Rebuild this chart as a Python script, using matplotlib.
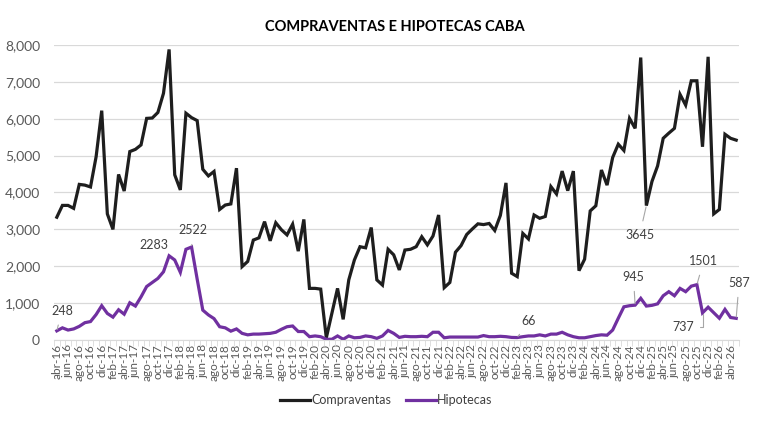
import matplotlib
matplotlib.use("Agg")
import matplotlib.pyplot as plt

plt.rcParams['font.family'] = ['Lato', 'DejaVu Sans']

meses = ["ene", "feb", "mar", "abr", "may", "jun",
         "jul", "ago", "sep", "oct", "nov", "dic"]
# abr-16 .. may-26
fechas = [f"{meses[m]}-{a % 100:02d}" for a in range(2016, 2027) for m in range(12)]
fechas = fechas[3:3 + 122]

compraventas = [
    3330, 3650, 3650, 3570, 4220, 4200, 4150, 4970, 6220, 3420,
    3000, 4490, 4040, 5110, 5170, 5290, 6010, 6020, 6170, 6690,
    7880, 4480, 4070, 6150, 6030, 5950, 4630, 4450, 4570, 3540,
    3660, 3690, 4660, 1990, 2130, 2710, 2770, 3210, 2690, 3180,
    2990, 2850, 3140, 2410, 3270, 1400, 1400, 1380, 60, 730,
    1400, 560, 1630, 2170, 2530, 2500, 3050, 1630, 1490, 2460,
    2310, 1900, 2440, 2460, 2530, 2800, 2580, 2820, 3390, 1420,
    1560, 2380, 2560, 2860, 3010, 3150, 3130, 3160, 2970, 3380,
    4260, 1810, 1720, 2890, 2740, 3390, 3300, 3350, 4160, 3960,
    4580, 4050, 4580, 1880, 2190, 3500, 3640, 4610, 4200, 4950,
    5310, 5140, 6010, 5740, 7660, 3645, 4300, 4720, 5470, 5610,
    5740, 6660, 6370, 7030, 7030, 5240, 7680, 3420, 3540, 5580,
    5470, 5420,
]

hipotecas = [
    248, 330, 270, 300, 370, 470, 500, 690, 930, 720,
    620, 820, 700, 1010, 920, 1170, 1450, 1560, 1670, 1850,
    2283, 2170, 1835, 2460, 2522, 1650, 810, 680, 580, 360,
    330, 240, 300, 180, 140, 160, 160, 170, 180, 210,
    290, 360, 380, 230, 230, 90, 110, 90, 20, 20,
    110, 20, 110, 60, 70, 110, 90, 45, 110, 260,
    180, 70, 100, 90, 90, 100, 90, 210, 210, 60,
    80, 80, 80, 80, 80, 80, 120, 90, 90, 100,
    90, 70, 66, 90, 110, 110, 140, 110, 160, 160,
    210, 140, 90, 60, 60, 90, 120, 140, 130, 270,
    590, 900, 930, 945, 1130, 920, 940, 980, 1200, 1310,
    1200, 1400, 1310, 1460, 1501, 737, 890, 740, 590, 830,
    610, 587,
]

x = list(range(len(fechas)))
gris_txt = "#595959"
gris_lbl = "#404040"
gris_lin = "#a6a6a6"

fig = plt.figure(figsize=(7.61, 4.23), dpi=100)
ax = fig.add_axes([54 / 761, 1 - 340 / 423, (739 - 54) / 761, (340 - 45) / 423])

ax.plot(x, compraventas, color="#1e1e1e", linewidth=2.3, label="Compraventas",
        solid_joinstyle="miter")
ax.plot(x, hipotecas, color="#7030a0", linewidth=2.3, label="Hipotecas",
        solid_joinstyle="miter")

ax.set_xlim(-0.5, len(x) - 0.5)
ax.set_ylim(0, 8000)
ax.set_yticks(range(0, 8001, 1000))
ax.set_yticklabels([f"{v:,}" for v in range(0, 8001, 1000)])
ax.set_xticks(x[::2])
ax.set_xticklabels(fechas[::2], rotation=90)
ax.set_xticks([i + 0.5 for i in range(-1, len(x))], minor=True)

ax.grid(axis="y", color="#d9d9d9", linewidth=0.9)
ax.set_axisbelow(True)
for s in ["top", "right", "left"]:
    ax.spines[s].set_visible(False)
ax.spines["bottom"].set_color("#d9d9d9")
ax.tick_params(axis="y", length=0, pad=10, labelsize=10, labelcolor=gris_txt)
ax.tick_params(axis="x", which="major", length=0, pad=3, labelsize=8.5, labelcolor=gris_txt)
ax.tick_params(axis="x", which="minor", length=4, color="#d9d9d9")

# etiquetas de datos
lbl = dict(fontsize=9, color=gris_lbl, ha="center", va="center")
flecha = dict(arrowstyle="-", color=gris_lin, linewidth=0.8, shrinkA=4, shrinkB=1)
ax.annotate("248", xy=(0, hipotecas[0]), xytext=(0.9, 790), arrowprops=flecha, **lbl)
ax.text(17.3, 2575, "2283", **lbl)
ax.annotate("2522", xy=(24, hipotecas[24]), xytext=(24.3, 2980), arrowprops=flecha, **lbl)
ax.annotate("66", xy=(82, hipotecas[82]), xytext=(84.1, 515), arrowprops=flecha, **lbl)
ax.annotate("945", xy=(103, hipotecas[103]), xytext=(102.7, 1707), arrowprops=flecha, **lbl)
ax.annotate("3645", xy=(105, compraventas[105]), xytext=(103.8, 2845), arrowprops=flecha, **lbl)
ax.annotate("1501", xy=(114, hipotecas[114]), xytext=(115.2, 2140), arrowprops=flecha, **lbl)
ax.annotate("737", xy=(115, hipotecas[115]), xytext=(111.6, 350),
            arrowprops=dict(arrowstyle="-", color=gris_lin, linewidth=0.8, shrinkA=2, shrinkB=1,
                            connectionstyle="angle,angleA=0,angleB=90,rad=0"), **lbl)
ax.annotate("587", xy=(121, hipotecas[121]), xytext=(121.5, 1545), arrowprops=flecha, **lbl)

fig.text(395 / 761, 1 - 27 / 423, "COMPRAVENTAS E HIPOTECAS CABA", ha="center", va="center",
         fontsize=10.5, fontweight="bold", color="#000000")

leg = fig.legend(loc="center", bbox_to_anchor=(386 / 761, 1 - 400 / 423), ncol=2,
                 frameon=False, fontsize=9, handlelength=2.4, columnspacing=1.2,
                 handletextpad=0.1)
for t in leg.get_texts():
    t.set_color(gris_lbl)

fig.savefig("out.png", dpi=100)
